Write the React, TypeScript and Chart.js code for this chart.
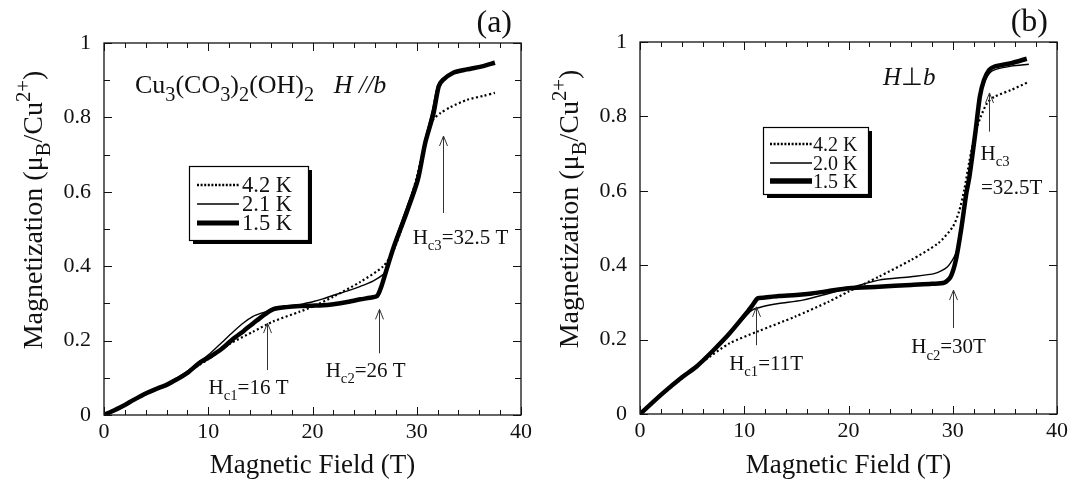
import React, { useEffect, useRef } from "react";
import { Chart, registerables } from "chart.js";

Chart.register(...registerables);

const FONT = "'Liberation Serif', 'Times New Roman', Times, serif";
const INK = "#111111";

// ---------- Panel (a): H // b ----------
const fieldA15 = [0, 1, 2, 2.8, 4, 5, 6, 7, 8, 9.2, 10.2, 11.3, 12.4, 13.4, 14.3, 15.2, 16.2, 17.5, 18.8, 20, 21, 22, 23.2, 24.6, 25.5, 26.2, 26.6, 27.0, 27.8, 29.0, 30.1, 30.8, 31.6, 32.1, 32.5, 33.5, 34.8, 36.4, 37.5];
const magA15 = [0, 0.013, 0.027, 0.04, 0.058, 0.07, 0.081, 0.096, 0.113, 0.141, 0.157, 0.178, 0.205, 0.226, 0.246, 0.266, 0.284, 0.29, 0.293, 0.294, 0.295, 0.298, 0.303, 0.311, 0.315, 0.32, 0.345, 0.381, 0.452, 0.542, 0.632, 0.73, 0.81, 0.883, 0.9, 0.92, 0.929, 0.938, 0.947];

const fieldA21 = [0, 2, 4, 6, 8, 9, 10.2, 11.3, 12.4, 13.4, 14.3, 15.0, 15.6, 16.2, 17, 18, 19, 20.1, 21, 22, 23.3, 24.6, 25.8, 26.8, 27.1, 27.8, 29.0, 30.1, 30.8, 31.5, 32.0, 32.5, 33.5, 35, 37.5];
const magA21 = [0, 0.027, 0.056, 0.083, 0.118, 0.14, 0.166, 0.195, 0.224, 0.248, 0.265, 0.273, 0.278, 0.283, 0.287, 0.292, 0.298, 0.305, 0.312, 0.322, 0.333, 0.346, 0.36, 0.378, 0.39, 0.46, 0.555, 0.645, 0.74, 0.82, 0.885, 0.905, 0.92, 0.93, 0.945];

const fieldA42 = [0, 2, 4, 6, 8, 10, 12, 14.3, 16.2, 18.8, 20, 22, 24.6, 26.8, 27.8, 29, 30, 31, 31.6, 32.3, 33.2, 34.8, 36.4, 37.5];
const magA42 = [0, 0.027, 0.055, 0.082, 0.115, 0.15, 0.19, 0.224, 0.251, 0.278, 0.291, 0.318, 0.358, 0.4, 0.444, 0.54, 0.64, 0.755, 0.795, 0.812, 0.827, 0.847, 0.858, 0.866];

// ---------- Panel (b): H ⊥ b ----------
const fieldB15 = [0, 2.2, 4, 5.4, 7, 8.6, 10.2, 10.8, 11.3, 12, 13.3, 15, 16.5, 18, 20, 22.9, 26, 28, 29.2, 29.8, 30.3, 30.8, 31.3, 31.6, 32.2, 32.6, 33.0, 33.5, 34.0, 35.6, 37.1];
const magB15 = [0, 0.056, 0.098, 0.127, 0.17, 0.217, 0.271, 0.293, 0.311, 0.313, 0.317, 0.32, 0.324, 0.33, 0.338, 0.342, 0.347, 0.35, 0.353, 0.369, 0.414, 0.495, 0.593, 0.638, 0.763, 0.853, 0.898, 0.925, 0.934, 0.943, 0.955];

const fieldB20 = [0, 2.2, 5.4, 8.6, 10.2, 10.8, 11.8, 13.3, 15.6, 18.1, 20, 22.9, 26, 28.3, 29.5, 30.3, 30.8, 31.3, 31.7, 32.2, 32.6, 33.0, 33.5, 34, 35.6, 37.3];
const magB20 = [0, 0.056, 0.127, 0.215, 0.265, 0.28, 0.289, 0.297, 0.306, 0.324, 0.338, 0.36, 0.369, 0.378, 0.396, 0.432, 0.5, 0.595, 0.645, 0.76, 0.845, 0.89, 0.915, 0.925, 0.935, 0.94];

const fieldB42 = [0, 2.2, 4, 6, 8.6, 11.3, 14.9, 18.1, 20, 22.9, 26, 28.6, 30, 30.6, 31.1, 31.6, 32.2, 32.7, 33.3, 34, 35.6, 37.3];
const magB42 = [0, 0.055, 0.095, 0.14, 0.19, 0.222, 0.262, 0.302, 0.329, 0.369, 0.414, 0.459, 0.503, 0.544, 0.602, 0.68, 0.76, 0.8, 0.836, 0.853, 0.871, 0.893];

// ---------- Axes ----------
const xTickValues = [0, 10, 20, 30, 40];
const yTickLabels = ["0", "0.2", "0.4", "0.6", "0.8", "1"];
const xTitle = "Magnetic Field (T)";

// Arrows (field, from M, to M = tip)
const arrowsA = [
  { x: 15.6, from: 0.121, to: 0.247 },
  { x: 26.4, from: 0.166, to: 0.284 },
  { x: 32.5, from: 0.543, to: 0.75 },
];
const arrowsB = [
  { x: 11.1, from: 0.185, to: 0.288 },
  { x: 30.0, from: 0.231, to: 0.333 },
  { x: 33.5, from: 0.759, to: 0.863 },
];

type Seg = { t: string; v?: "sub" | "sup"; i?: boolean };
type Label = { segs: Seg[]; x: number; y: number; size: number; align: "left" | "center" | "right"; subScale?: number };

const labelsA: Label[] = [
  { segs: [{ t: "Cu" }, { t: "3", v: "sub" }, { t: "(CO" }, { t: "3", v: "sub" }, { t: ")" }, { t: "2", v: "sub" }, { t: "(OH)" }, { t: "2", v: "sub" }, { t: "   " }, { t: "H //b", i: true }], x: 2.97, y: 0.865, size: 26, align: "left", subScale: 0.78 },
  { segs: [{ t: "H" }, { t: "c1", v: "sub" }, { t: "=16 T" }], x: 13.86, y: 0.056, size: 21, align: "center" },
  { segs: [{ t: "H" }, { t: "c2", v: "sub" }, { t: "=26 T" }], x: 25.1, y: 0.103, size: 21, align: "center" },
  { segs: [{ t: "H" }, { t: "c3", v: "sub" }, { t: "=32.5 T" }], x: 34.2, y: 0.461, size: 21, align: "center" },
];
const labelsB: Label[] = [
  { segs: [{ t: "H", i: true }, { t: "\u22A5" }, { t: "b", i: true }], x: 23.3, y: 0.884, size: 25, align: "left" },
  { segs: [{ t: "H" }, { t: "c1", v: "sub" }, { t: "=11T" }], x: 12.1, y: 0.118, size: 21, align: "center" },
  { segs: [{ t: "H" }, { t: "c2", v: "sub" }, { t: "=30T" }], x: 29.6, y: 0.163, size: 21, align: "center" },
  { segs: [{ t: "H" }, { t: "c3", v: "sub" }], x: 32.67, y: 0.683, size: 21, align: "left" },
  { segs: [{ t: "=32.5T" }], x: 32.7, y: 0.592, size: 21, align: "left" },
];

const yTitleSegs: Seg[] = [{ t: "Magnetization (\u03BC" }, { t: "B", v: "sub" }, { t: "/Cu" }, { t: "2+", v: "sup" }, { t: ")" }];

type Style = { width: number; dash: number[] };
const THICK: Style = { width: 4.5, dash: [] };
const THIN: Style = { width: 1.4, dash: [] };
const DOT: Style = { width: 2.2, dash: [2, 2.5] };

type Series = { label: string; x: number[]; y: number[]; style: Style; legendWidth: number };

type PanelCfg = {
  tag: string;
  series: Series[]; // first is drawn on top
  legendOrder: number[];
  legend: { left: number; top: number; w: number; h: number; x0: number; x1: number; tx: number; rows: number[]; size: number };
  arrows: { x: number; from: number; to: number }[];
  labels: Label[];
  yMinor: number;
  padTop: number;
  padRight: number;
  xAxisH: number;
};

const panelA: PanelCfg = {
  tag: "(a)",
  series: [
    { label: "1.5 K", x: fieldA15, y: magA15, style: THICK, legendWidth: 5 },
    { label: "2.1 K", x: fieldA21, y: magA21, style: THIN, legendWidth: 1.6 },
    { label: "4.2 K", x: fieldA42, y: magA42, style: DOT, legendWidth: 2.4 },
  ],
  legendOrder: [2, 1, 0],
  legend: { left: 85, top: 123, w: 119, h: 74, x0: 8, x1: 50, tx: 53, rows: [19, 38, 57], size: 22.5 },
  arrows: arrowsA,
  labels: labelsA,
  yMinor: 0.1,
  padTop: 43,
  padRight: 15,
  xAxisH: 70,
};

const panelB: PanelCfg = {
  tag: "(b)",
  series: [
    { label: "1.5 K", x: fieldB15, y: magB15, style: THICK, legendWidth: 5.5 },
    { label: "2.0 K", x: fieldB20, y: magB20, style: THIN, legendWidth: 1.6 },
    { label: "4.2 K", x: fieldB42, y: magB42, style: DOT, legendWidth: 2.4 },
  ],
  legendOrder: [2, 1, 0],
  legend: { left: 123, top: 85, w: 105, h: 67, x0: 7, x1: 49, tx: 50, rows: [17, 36, 54], size: 20 },
  arrows: arrowsB,
  labels: labelsB,
  yMinor: 0.2,
  padTop: 42,
  padRight: 12,
  xAxisH: 71,
};

function segFont(size: number, s: Seg, subScale: number) {
  const sz = s.v ? size * subScale : size;
  return `${s.i ? "italic " : ""}${sz}px ${FONT}`;
}
function drawRich(ctx: CanvasRenderingContext2D, segs: Seg[], x: number, y: number, size: number, align: string, subScale = 0.7) {
  let w = 0;
  for (const s of segs) {
    ctx.font = segFont(size, s, subScale);
    w += ctx.measureText(s.t).width;
  }
  let cx = align === "center" ? x - w / 2 : align === "right" ? x - w : x;
  ctx.textAlign = "left";
  ctx.textBaseline = "alphabetic";
  for (const s of segs) {
    ctx.font = segFont(size, s, subScale);
    const dy = s.v === "sub" ? size * 0.3 : s.v === "sup" ? -size * 0.42 : 0;
    ctx.fillText(s.t, cx, y + dy);
    cx += ctx.measureText(s.t).width;
  }
}

function makeDecor(cfg: PanelCfg) {
  return {
    id: "decor",
    afterDraw(chart: any) {
      const ctx: CanvasRenderingContext2D = chart.ctx;
      const { left, right, top, bottom } = chart.chartArea;
      const xs = chart.scales.x;
      const ys = chart.scales.y;
      ctx.save();
      ctx.fillStyle = INK;
      ctx.strokeStyle = INK;
      ctx.lineCap = "butt";

      // frame
      ctx.lineWidth = 1.3;
      ctx.setLineDash([]);
      ctx.strokeRect(left, top, right - left, bottom - top);

      // ticks (inward, all four sides)
      ctx.lineWidth = 1;
      ctx.beginPath();
      for (let v = 0; v <= 40.001; v += 2) {
        const px = Math.round(xs.getPixelForValue(v)) + 0.5;
        const len = Math.abs(v % 10) < 1e-6 ? 8 : 5;
        ctx.moveTo(px, bottom);
        ctx.lineTo(px, bottom - len);
        ctx.moveTo(px, top);
        ctx.lineTo(px, top + len);
      }
      for (let v = 0; v <= 1.0001; v += cfg.yMinor) {
        const py = Math.round(ys.getPixelForValue(v)) + 0.5;
        const major = Math.abs(v * 5 - Math.round(v * 5)) < 1e-6;
        const len = major ? 8 : 6;
        ctx.moveTo(left, py);
        ctx.lineTo(left + len, py);
        ctx.moveTo(right, py);
        ctx.lineTo(right - len, py);
      }
      ctx.stroke();

      // axis titles
      drawRich(ctx, [{ t: xTitle }], (left + right) / 2, 473, 27, "center");
      ctx.save();
      ctx.translate(42, (top + bottom) / 2 - 19);
      ctx.rotate(-Math.PI / 2);
      drawRich(ctx, yTitleSegs, 0, 0, 28, "center", 0.74);
      ctx.restore();

      // panel tag
      drawRich(ctx, [{ t: cfg.tag }], right - 9, top - 11, 32, "right");

      // arrows
      ctx.strokeStyle = "#333";
      ctx.lineWidth = 1;
      for (const a of cfg.arrows) {
        const px = Math.round(xs.getPixelForValue(a.x)) + 0.5;
        const y0 = ys.getPixelForValue(a.from);
        const y1 = ys.getPixelForValue(a.to);
        ctx.beginPath();
        ctx.moveTo(px, y0);
        ctx.lineTo(px, y1);
        ctx.moveTo(px - 4, y1 + 10);
        ctx.lineTo(px, y1);
        ctx.lineTo(px + 4, y1 + 10);
        ctx.stroke();
      }

      // labels
      ctx.fillStyle = INK;
      for (const l of cfg.labels) {
        drawRich(ctx, l.segs, xs.getPixelForValue(l.x), ys.getPixelForValue(l.y), l.size, l.align, l.subScale ?? 0.7);
      }

      // legend box
      const L = cfg.legend;
      const bx = left + L.left;
      const by = top + L.top;
      ctx.fillStyle = "#000";
      ctx.fillRect(bx + 4, by + 4, L.w, L.h);
      ctx.fillStyle = "#fff";
      ctx.fillRect(bx, by, L.w, L.h);
      ctx.strokeStyle = "#000";
      ctx.lineWidth = 1.2;
      ctx.strokeRect(bx + 0.5, by + 0.5, L.w, L.h);
      cfg.legendOrder.forEach((si, r) => {
        const s = cfg.series[si];
        const ry = by + L.rows[r];
        ctx.beginPath();
        ctx.lineWidth = s.legendWidth;
        ctx.setLineDash(s.style.dash.length ? [2, 1.6] : []);
        ctx.strokeStyle = "#000";
        ctx.moveTo(bx + L.x0, ry);
        ctx.lineTo(bx + L.x1, ry);
        ctx.stroke();
        ctx.setLineDash([]);
        ctx.fillStyle = INK;
        drawRich(ctx, [{ t: s.label }], bx + L.tx, ry + L.size * 0.33, L.size, "left");
      });
      ctx.restore();
    },
  };
}

function Panel({ cfg }: { cfg: PanelCfg }) {
  const ref = useRef<HTMLCanvasElement>(null);
  useEffect(() => {
    const chart = new Chart(ref.current as HTMLCanvasElement, {
      type: "scatter",
      data: {
        datasets: cfg.series.map((s) => ({
          label: s.label,
          data: s.x.map((v, i) => ({ x: v, y: s.y[i] })),
          showLine: true,
          borderColor: "#000",
          backgroundColor: "#000",
          borderWidth: s.style.width,
          borderDash: s.style.dash,
          pointRadius: 0,
          tension: 0.25,
          borderCapStyle: "butt",
          borderJoinStyle: "round",
        })),
      },
      options: {
        responsive: false,
        animation: false,
        devicePixelRatio: 1,
        layout: { padding: { top: cfg.padTop, right: cfg.padRight, bottom: 0, left: 0 } },
        plugins: { legend: { display: false }, tooltip: { enabled: false }, title: { display: false } },
        scales: {
          x: {
            type: "linear",
            min: 0,
            max: 40,
            afterBuildTicks: (scale: any) => {
              scale.ticks = xTickValues.map((v) => ({ value: v }));
            },
            afterFit: (scale: any) => {
              scale.height = cfg.xAxisH;
            },
            ticks: { font: { family: FONT, size: 22 }, color: INK, padding: 4, maxRotation: 0 },
            grid: { display: false, drawTicks: false },
            border: { display: false },
          },
          y: {
            type: "linear",
            min: 0,
            max: 1,
            afterBuildTicks: (scale: any) => {
              scale.ticks = yTickLabels.map((_, i) => ({ value: i * 0.2 }));
            },
            afterFit: (scale: any) => {
              scale.width = 104;
            },
            ticks: {
              font: { family: FONT, size: 22 },
              color: INK,
              padding: 13,
              callback: (_v: any, i: number) => yTickLabels[i],
            },
            grid: { display: false, drawTicks: false },
            border: { display: false },
          },
        },
      } as any,
      plugins: [makeDecor(cfg)],
    });
    return () => chart.destroy();
  }, [cfg]);
  return <canvas ref={ref} width={536} height={485} style={{ display: "block", width: 536, height: 485 }} />;
}

export default function App() {
  return (
    <div style={{ position: "absolute", left: 0, top: 0, width: 1072, height: 485, background: "#fff", display: "flex" }}>
      <Panel cfg={panelA} />
      <Panel cfg={panelB} />
    </div>
  );
}
